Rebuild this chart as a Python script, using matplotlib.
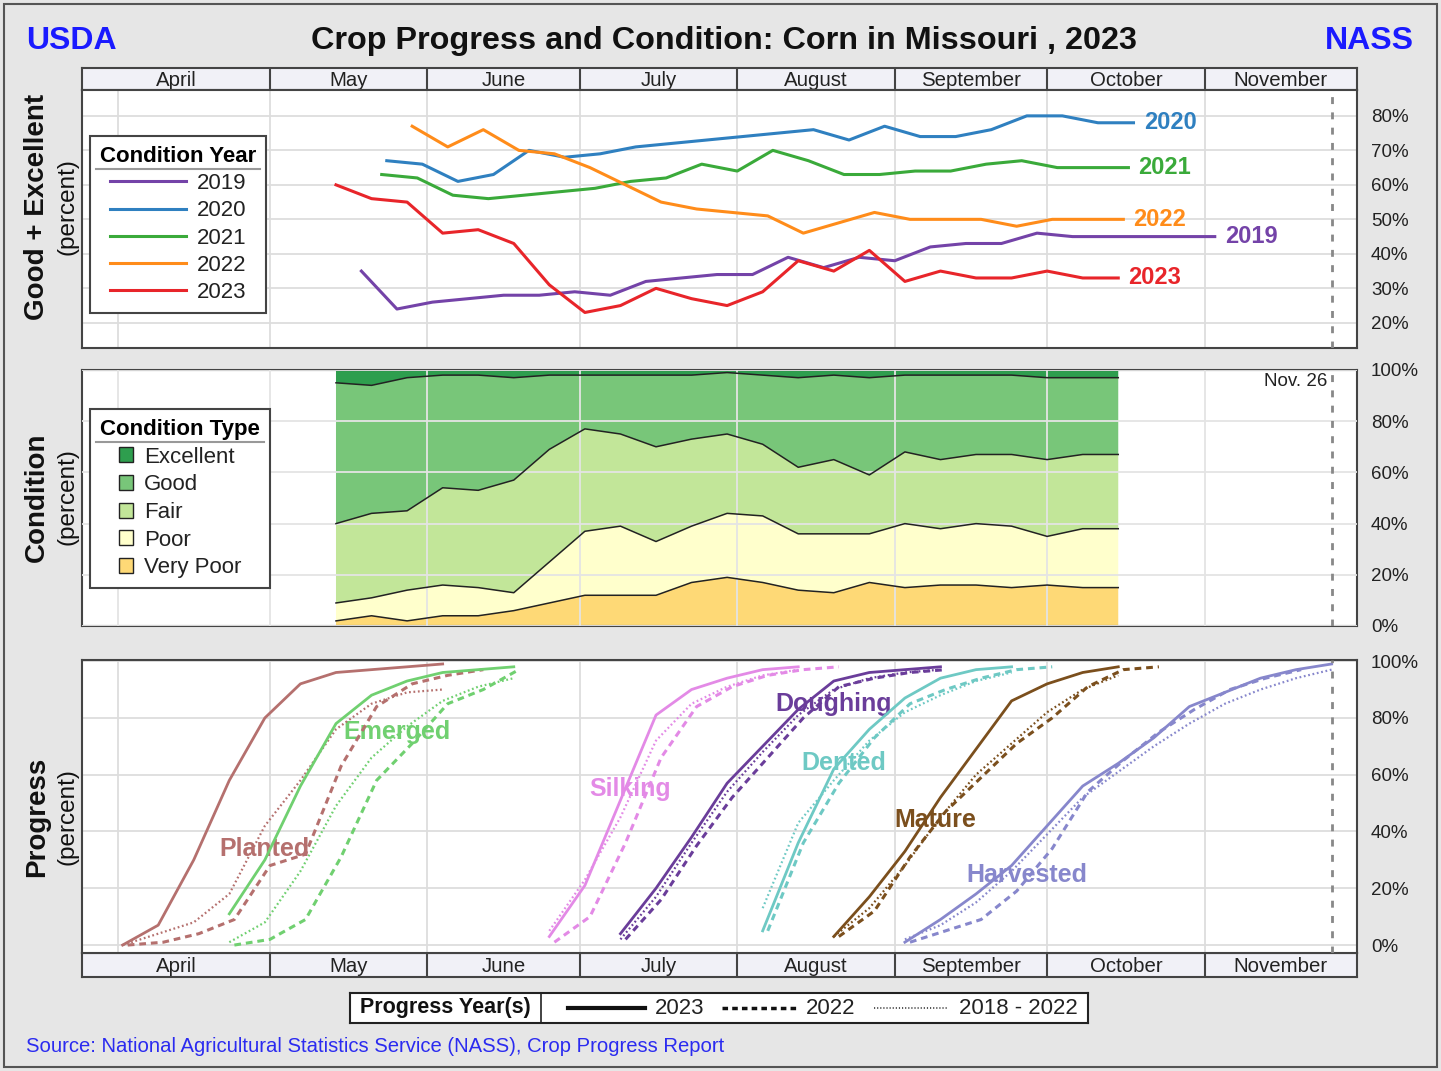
import numpy as np
import pandas as pd
import matplotlib
matplotlib.use('Agg')
import matplotlib.pyplot as plt
from matplotlib.lines import Line2D
from matplotlib.patches import Rectangle, Patch

plt.rcParams['font.family'] = ['Liberation Sans', 'DejaVu Sans']

# ---------------- data ----------------
# good + excellent condition, weekly values from the first report date
ge_years = ['2019', '2020', '2021', '2022', '2023']
ge_start = ['05-19', '05-24', '05-23', '05-29', '05-14']
ge_2019 = [35, 24, 26, 27, 28, 28, 29, 28, 32, 33, 34, 34, 39, 36, 39, 38, 42, 43, 43, 46, 45, 45, 45, 45, 45]
ge_2020 = [67, 66, 61, 63, 70, 68, 69, 71, 72, 73, 74, 75, 76, 73, 77, 74, 74, 76, 80, 80, 78, 78]
ge_2021 = [63, 62, 57, 56, 57, 58, 59, 61, 62, 66, 64, 70, 67, 63, 63, 64, 64, 66, 67, 65, 65, 65]
ge_2022 = [77, 71, 76, 70, 69, 65, 60, 55, 53, 52, 51, 46, 49, 52, 50, 50, 50, 48, 50, 50, 50]
ge_2023 = [60, 56, 55, 46, 47, 43, 31, 23, 25, 30, 27, 25, 29, 38, 35, 41, 32, 35, 33, 33, 35, 33, 33]

# 2023 condition by type (percent), weekly from 05-14
cond_start = '05-14'
cond_types = ['Excellent', 'Good', 'Fair', 'Poor', 'Very Poor']
excellent = [5, 6, 3, 2, 2, 3, 2, 2, 2, 2, 2, 1, 2, 3, 2, 3, 2, 2, 2, 2, 3, 3, 3]
good = [55, 50, 52, 44, 45, 40, 29, 21, 23, 28, 25, 24, 27, 35, 33, 38, 30, 33, 31, 31, 32, 30, 30]
fair = [31, 33, 31, 38, 38, 44, 44, 40, 36, 37, 34, 31, 28, 26, 29, 23, 28, 27, 27, 28, 30, 29, 29]
poor = [7, 7, 12, 12, 11, 7, 16, 25, 27, 21, 22, 25, 26, 22, 23, 19, 25, 22, 24, 24, 19, 23, 23]
very_poor = [2, 4, 2, 4, 4, 6, 9, 12, 12, 12, 17, 19, 17, 14, 13, 17, 15, 16, 16, 15, 16, 15, 15]

# progress (percent): 2023, 2022 and 2018-2022 average, weekly from the start date
stages = ['Planted', 'Emerged', 'Silking', 'Doughing', 'Dented', 'Mature', 'Harvested']
planted_23 = ('04-02', [0, 7, 30, 58, 80, 92, 96, 97, 98, 99])
planted_22 = ('04-03', [0, 1, 4, 9, 28, 32, 63, 84, 92, 95, 97])
planted_av = ('04-02', [0, 4, 8, 18, 42, 58, 76, 85, 89, 90])
emerged_23 = ('04-23', [11, 30, 56, 78, 88, 93, 96, 97, 98])
emerged_22 = ('04-24', [0, 2, 9, 31, 58, 71, 85, 90, 97])
emerged_av = ('04-23', [1, 8, 26, 49, 66, 77, 86, 91, 94])
silking_23 = ('06-25', [3, 21, 51, 81, 90, 94, 97, 98])
silking_22 = ('06-26', [1, 10, 36, 66, 84, 91, 95, 97, 98])
silking_av = ('06-25', [5, 23, 45, 72, 85, 91, 95, 97])
doughing_23 = ('07-09', [4, 20, 38, 57, 70, 83, 93, 96, 97, 98])
doughing_22 = ('07-10', [2, 16, 35, 52, 66, 80, 91, 94, 96, 97])
doughing_av = ('07-09', [2, 17, 36, 54, 68, 81, 90, 94, 96, 97])
dented_23 = ('08-06', [5, 36, 62, 76, 87, 94, 97, 98])
dented_22 = ('08-07', [5, 36, 57, 73, 85, 90, 94, 97, 98])
dented_av = ('08-06', [13, 43, 58, 72, 82, 88, 93, 96])
mature_23 = ('08-20', [3, 17, 33, 52, 69, 86, 92, 96, 98])
mature_22 = ('08-21', [3, 12, 31, 47, 59, 71, 80, 91, 97, 98])
mature_av = ('08-20', [3, 13, 28, 45, 60, 71, 82, 90, 95])
harvested_23 = ('09-03', [1, 9, 18, 28, 42, 56, 64, 73, 84, 89, 94, 97, 99])
harvested_22 = ('09-04', [1, 5, 9, 19, 34, 54, 65, 75, 83, 90, 94, 97])
harvested_av = ('09-03', [2, 7, 15, 26, 39, 52, 61, 70, 78, 85, 90, 94, 97])

months = ['April', 'May', 'June', 'July', 'August', 'September', 'October', 'November']
last_report = '11-26'

# ---------------- styles ----------------
ge_colors = ['#7443a8', '#2f80c0', '#3aaa3a', '#ff8c1a', '#e8252a']
cond_colors = ['#2e9e4e', '#78c679', '#c2e699', '#ffffcc', '#fed976']
stage_colors = ['#b5706e', '#70d070', '#e38ae6', '#6a3d9a', '#6ec9c4', '#7b4f1d', '#8787cc']
stage_label_pos = [('04-30', 34), ('05-26', 75), ('07-11', 55), ('08-20', 85),
                   ('08-22', 64), ('09-09', 44), ('09-27', 24.5)]


def d(s):
    return pd.Timestamp('2023-' + s)


def weeks(start, n):
    return pd.date_range(d(start), periods=n, freq='7D').to_pydatetime()


W, H = 1441, 1071
fig = plt.figure(figsize=(W / 100, H / 100), dpi=100, facecolor='#e6e6e6')


def pax(x0, y0, x1, y1):
    return fig.add_axes([x0 / W, 1 - y1 / H, (x1 - x0) / W, (y1 - y0) / H])


fig.patches.append(Rectangle((4 / W, 4 / H), 1433 / W, 1063 / H, transform=fig.transFigure,
                             fill=False, ec='#555555', lw=1.5))

xmin, xmax = d('03-25'), d('12-01')
month_starts = [d('%02d-01' % m) for m in range(4, 12)]
nov26 = d(last_report)
spine_c = '#444444'


def style_panel(ax, yticks):
    ax.set_xlim(xmin, xmax)
    ax.set_xticks(month_starts)
    ax.set_xticklabels([])
    ax.tick_params(axis='x', length=0)
    ax.yaxis.tick_right()
    ax.set_yticks(yticks)
    ax.set_yticklabels(['%d%%' % v for v in yticks])
    ax.tick_params(axis='y', length=0, pad=10, labelsize=13.5, labelcolor='#222222')
    ax.grid(True, color='#dddddd', lw=1.3)
    for s in ax.spines.values():
        s.set_color(spine_c)
        s.set_linewidth(1.5)
    ax.axvline(nov26, color='#888888', lw=2, ls=(0, (2.5, 3)), zorder=5)


def month_strip(ax):
    ax.set_xlim(xmin, xmax)
    ax.set_ylim(0, 1)
    ax.set_facecolor('#f1f1f7')
    ax.set_xticks([])
    ax.set_yticks([])
    for s in ax.spines.values():
        s.set_color(spine_c)
        s.set_linewidth(1.5)
    for m in month_starts[1:]:
        ax.axvline(m, color=spine_c, lw=1.5)
    edges = [xmin] + month_starts[1:] + [xmax]
    for i, name in enumerate(months):
        mid = edges[i] + (edges[i + 1] - edges[i]) / 2
        ax.text(mid, 0.45, name, ha='center', va='center', fontsize=14.7, color='#222222')


# ---------------- header ----------------
fig.text(724 / W, 1 - 41 / H, 'Crop Progress and Condition: Corn in Missouri , 2023',
         ha='center', va='center', fontsize=23.3, fontweight='bold', color='#111111')
fig.text(26 / W, 1 - 41 / H, 'USDA', ha='left', va='center', fontsize=23,
         fontweight='bold', color='#1a1aff')
fig.text(1414 / W, 1 - 41 / H, 'NASS', ha='right', va='center', fontsize=23,
         fontweight='bold', color='#1a1aff')

month_strip(pax(82, 68, 1357, 90))
month_strip(pax(82, 953, 1357, 977))

# ---------------- good + excellent ----------------
ax1 = pax(82, 90, 1357, 348)
style_panel(ax1, list(range(20, 81, 10)))
ax1.set_ylim(12.7, 87.5)
ge_series = [ge_2019, ge_2020, ge_2021, ge_2022, ge_2023]
handles = []
for yr, st, vals, c in zip(ge_years, ge_start, ge_series, ge_colors):
    x = weeks(st, len(vals))
    h, = ax1.plot(x, vals, color=c, lw=2.2, zorder=3)
    handles.append(h)
    ax1.text(x[-1] + pd.Timedelta(days=2), vals[-1], yr, color=c, fontsize=17,
             fontweight='bold', ha='left', va='center')
leg1 = ax1.legend(handles, ge_years, title='Condition Year', loc='upper left',
                  bbox_to_anchor=(0.0063, 0.822), borderaxespad=0, fancybox=False,
                  edgecolor='#444444', framealpha=1, fontsize=16, handlelength=3.4,
                  labelspacing=0.28, borderpad=0.45, handletextpad=0.5,
                  title_fontproperties={'weight': 'bold', 'size': 16})
leg1.get_frame().set_linewidth(1.5)
for t in leg1.get_texts():
    t.set_color('#222222')

# ---------------- condition ----------------
ax2 = pax(82, 370, 1357, 626)
style_panel(ax2, list(range(0, 101, 20)))
ax2.set_ylim(0, 100)
xc = weeks(cond_start, len(excellent))
layers = [very_poor, poor, fair, good, excellent]
ax2.stackplot(xc, *layers, colors=cond_colors[::-1], lw=0, zorder=1)
ax2.set_axisbelow(False)
ax2.grid(True, color='#e4e4e4', lw=1.3, zorder=2)
cum = np.cumsum(np.array(layers[:-1]), axis=0)
for row in cum:
    ax2.plot(xc, row, color='#222222', lw=1.1, zorder=3)
ax2.text(nov26 - pd.Timedelta(days=0.8), 95.5, 'Nov. 26', ha='right', va='center',
         fontsize=13.5, color='#222222')
leg2 = ax2.legend([Patch(facecolor=c, edgecolor='#222222') for c in cond_colors], cond_types,
                  title='Condition Type', loc='upper left', bbox_to_anchor=(0.0063, 0.848),
                  borderaxespad=0, fancybox=False, edgecolor='#444444', framealpha=1,
                  fontsize=16, handlelength=0.65, handleheight=0.65, labelspacing=0.3,
                  borderpad=0.45, handletextpad=0.5,
                  title_fontproperties={'weight': 'bold', 'size': 16})
leg2.get_frame().set_linewidth(1.5)
for t in leg2.get_texts():
    t.set_color('#222222')

# ---------------- progress ----------------
ax3 = pax(82, 660, 1357, 953)
style_panel(ax3, list(range(0, 101, 20)))
ax3.set_ylim(-2.8, 100.4)
progress = [
    (planted_23, planted_22, planted_av),
    (emerged_23, emerged_22, emerged_av),
    (silking_23, silking_22, silking_av),
    (doughing_23, doughing_22, doughing_av),
    (dented_23, dented_22, dented_av),
    (mature_23, mature_22, mature_av),
    (harvested_23, harvested_22, harvested_av),
]
for name, (cur, prev, avg), c, (lx, ly) in zip(stages, progress, stage_colors, stage_label_pos):
    ax3.plot(weeks(cur[0], len(cur[1])), cur[1], color=c, lw=2.0, zorder=3)
    ax3.plot(weeks(prev[0], len(prev[1])), prev[1], color=c, lw=2.2, ls=(0, (2.2, 1.6)), zorder=3)
    ax3.plot(weeks(avg[0], len(avg[1])), avg[1], color=c, lw=1.6, ls=(0, (0.8, 1.2)), zorder=3)
    ax3.text(d(lx), ly, name, color=c, fontsize=18, fontweight='bold', ha='center',
             va='center', zorder=2)

# ---------------- left labels ----------------
for yc, big in [(207, 'Good + Excellent'), (497, 'Condition'), (817, 'Progress')]:
    fig.text(37 / W, 1 - yc / H, big, rotation=90, ha='center', va='center',
             fontsize=20, fontweight='bold', color='#111111')
    fig.text(67 / W, 1 - yc / H, '(percent)', rotation=90, ha='center', va='center',
             fontsize=17.5, color='#111111')

# ---------------- progress year legend ----------------
axl = pax(350, 993, 1088, 1023)
axl.set_xlim(350, 1088)
axl.set_ylim(1023, 993)
axl.set_xticks([])
axl.set_yticks([])
axl.set_facecolor('white')
for s in axl.spines.values():
    s.set_color('#222222')
    s.set_linewidth(1.5)
axl.axvline(541, color='#222222', lw=1.2)
axl.text(445.5, 1008, 'Progress Year(s)', ha='center', va='center', fontsize=15.5,
         fontweight='bold', color='#111111')
axl.plot([568, 645], [1008, 1008], color='#111111', lw=3)
axl.text(655, 1008, '2023', ha='left', va='center', fontsize=16, color='#222222')
axl.plot([722, 797], [1008, 1008], color='#111111', lw=2.5, ls=(0, (1.6, 1.2)))
axl.text(806, 1008, '2022', ha='left', va='center', fontsize=16, color='#222222')
axl.plot([874, 948], [1008, 1008], color='#555555', lw=1.4, ls=(0, (0.6, 1.0)))
axl.text(959, 1008, '2018 - 2022', ha='left', va='center', fontsize=16, color='#222222')

fig.text(26 / W, 1 - 1047 / H,
         'Source: National Agricultural Statistics Service (NASS), Crop Progress Report',
         ha='left', va='center', fontsize=14.6, color='#2b2bf0')

# underline legend titles
fig.canvas.draw()
r = fig.canvas.get_renderer()
for lg in (leg1, leg2):
    fb = lg.get_frame().get_window_extent(r)
    tb = lg.get_title().get_window_extent(r)
    yy = tb.y0 - 2
    fig.add_artist(Line2D([(fb.x0 + 6) / W, (fb.x1 - 6) / W], [yy / H, yy / H],
                          transform=fig.transFigure, color='#999999', lw=1.5))

fig.savefig('out.png', dpi=100, facecolor=fig.get_facecolor())
